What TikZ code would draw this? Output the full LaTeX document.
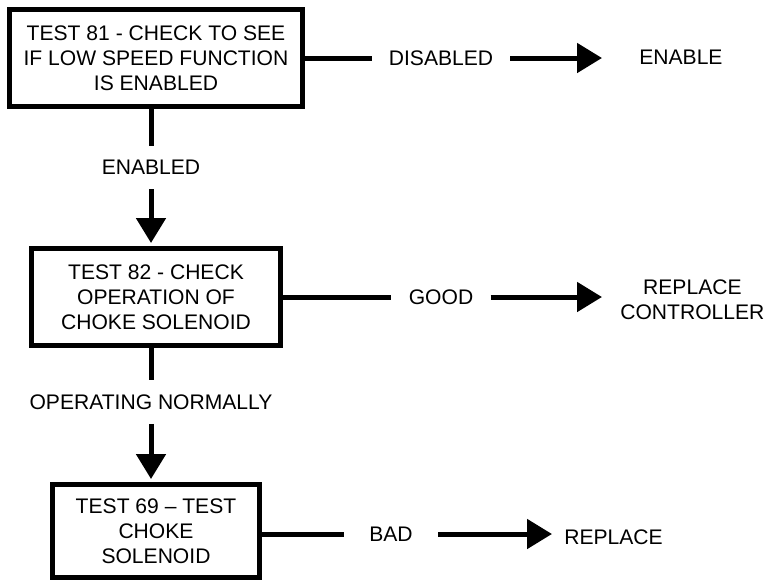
\documentclass[tikz,border=0pt]{standalone}
\usepackage{fontspec}
\setmainfont{Liberation Sans}
\usetikzlibrary{arrows.meta}
\tikzset{
  prueba/.style={rectangle, draw=black, line width=0.1cm, align=center, inner sep=0pt},
  etiqueta/.style={inner xsep=0.34cm, inner ysep=0.28cm},
  destino/.style={inner sep=0pt, align=center, anchor=west},
  linea/.style={line width=0.1cm},
  flecha/.style={line width=0.1cm, -{Triangle[length=0.5cm, width=0.58cm]}}
}

\begin{document}
\begin{tikzpicture}[x=0.02cm, y=-0.02cm, font=\fontsize{12pt}{14.2pt}\selectfont]

    \useasboundingbox (0,0) rectangle (768,582);

    % 1. Cajas de las pruebas
    \node[prueba, minimum width=5.86cm, minimum height=1.96cm] (t81) at (156,58) {TEST 81 - CHECK TO SEE\\IF LOW SPEED FUNCTION\\IS ENABLED};
    \node[prueba, minimum width=4.98cm, minimum height=1.94cm] (t82) at (156,297) {TEST 82 - CHECK\\OPERATION OF\\CHOKE SOLENOID};
    \node[prueba, minimum width=4.14cm, minimum height=1.86cm] (t69) at (156,531) {TEST 69 – TEST\\CHOKE\\SOLENOID};

    % 2. Etiquetas sobre las líneas
    \node[etiqueta] (disabled) at (441,58) {DISABLED};
    \node[etiqueta] (enabled) at (151,167.5) {ENABLED};
    \node[etiqueta] (good) at (441,297) {GOOD};
    \node[etiqueta] (opnormal) at (151,402) {OPERATING NORMALLY};
    \node[etiqueta, inner xsep=0.5cm] (bad) at (391,534) {BAD};

    % 3. Acciones finales
    \node[destino] (enable) at (639,57) {ENABLE};
    \node[destino] (replctrl) at (620,300) {REPLACE\\CONTROLLER};
    \node[destino] (replace) at (564,537) {REPLACE};

    % 4. Conexiones
    \draw[linea] (t81) -- (disabled);
    \draw[flecha, shorten >=0.74cm] (disabled) -- (disabled -| enable.west);
    \draw[linea] (t81.south -| enabled) -- (enabled);
    \draw[flecha, shorten >=0.06cm] (enabled) -- (enabled |- t82.north);

    \draw[linea] (t82) -- (good);
    \draw[flecha, shorten >=0.36cm] (good) -- (good -| replctrl.west);
    \draw[linea] (t82.south -| opnormal) -- (opnormal);
    \draw[flecha, shorten >=0.06cm] (opnormal) -- (opnormal |- t69.north);

    \draw[linea] (t69.east |- bad) -- (bad);
    \draw[flecha, shorten >=0.24cm] (bad) -- (bad -| replace.west);

\end{tikzpicture}
\end{document}
